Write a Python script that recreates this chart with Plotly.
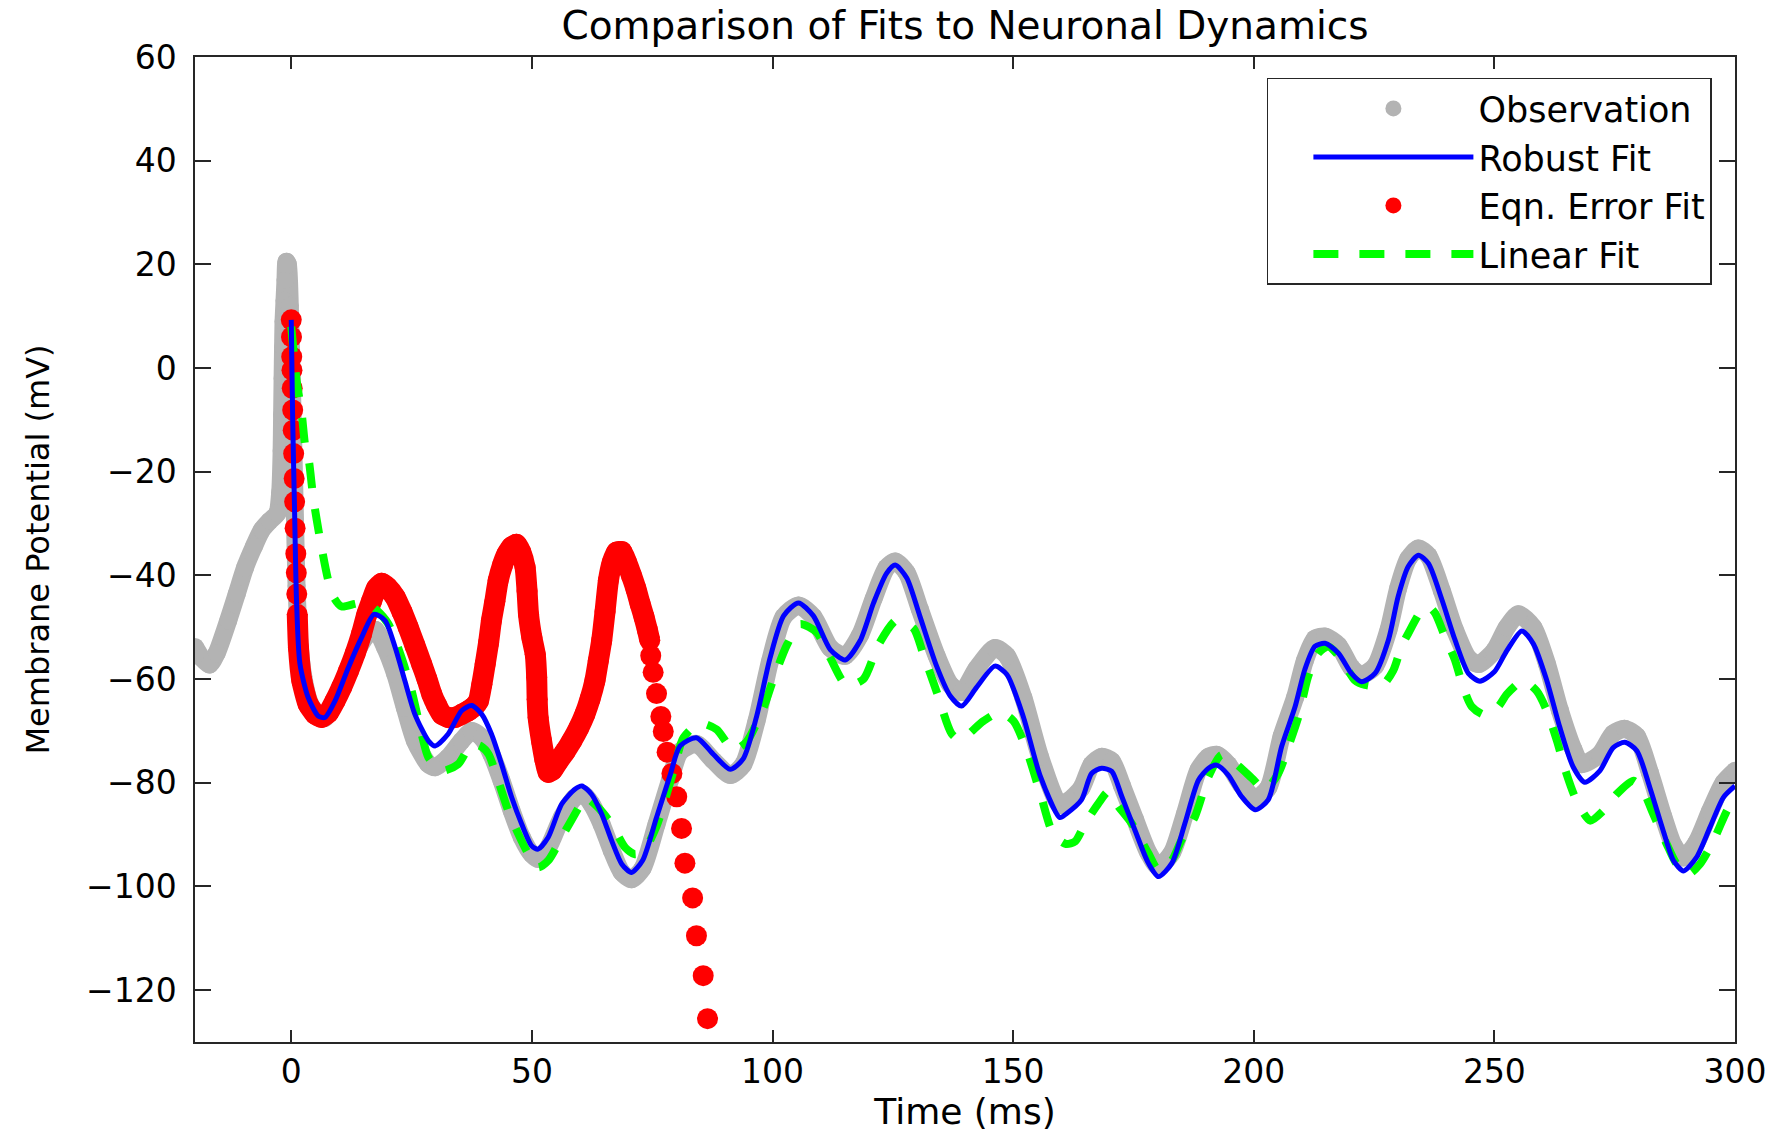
import plotly.graph_objects as go

# ---------------- data ----------------
obs_t = [-20, -18.5, -17, -15.5, -13.1, -11.3, -9.6, -7.8, -6.1, -4.5, -2.9, -2.3, -2.0, -1.9, -1.8,
         -1.7, -1.6, -1.4, -1.2, -1.0, -0.7, -0.3, 0.0, 0.3, 0.7, 1.1, 1.6, 2.5, 3.8, 5.5, 7.0, 9.0,
         11.5, 14.0, 16.0, 17.5, 19.5, 21.6, 23.6, 25.7, 28.5, 29.9, 32.6, 35.4, 37.5, 39.6, 41.6,
         43.7, 45.8, 47.9, 50.0, 51.3, 53.4, 56.2, 59.0, 60.7, 62.4, 64.5, 66.6, 68.7, 70.7, 73.0,
         75.9, 78.7, 80.8, 84.2, 87.7, 91.2, 93.9, 96.7, 99.5, 102.3, 105.4, 108.5, 112.0, 115.1,
         118.2, 121.0, 123.7, 125.5, 127.9, 130.6, 134.1, 136.9, 139.3, 142.4, 146.2, 148.7, 152.1,
         155.6, 159.7, 161.5, 164.2, 166.3, 168.4, 170.5, 172.6, 175.3, 178.1, 180.2, 183.0, 185.7,
         188.5, 190.6, 192.3, 194.7, 197.5, 200.3, 203.0, 205.8, 208.6, 210.6, 212.7, 214.8, 217.6,
         220.3, 222.4, 225.2, 228.0, 230.0, 232.1, 234.2, 236.3, 239.1, 241.8, 244.6, 246.7, 250.0,
         252.6, 255.0, 258.1, 260.9, 263.6, 266.4, 268.1, 271.9, 274.7, 277.1, 279.6, 282.3, 285.1,
         287.2, 289.3, 292.0, 294.8, 297.6, 300.0]
obs_v = [-53.8, -56, -57.2, -55, -48.7, -43.5, -38.5, -34.5, -31.2, -29.5, -28.0, -24, -16, -9, -2,
         4, 9, 13, 17, 20.5, 20, 12, 2, -10, -26, -42, -52, -59.5, -64.5, -67, -67.5, -64.5,
         -59, -54, -51.3, -50.5, -53.9, -59.0, -65.5, -71.9, -76.4, -77.0, -75.1, -71.9, -70.0, -71.3, -74.5,
         -79.6, -85.4, -90.5, -93.8, -94.7, -92.5, -86.7, -82.8, -82.2, -84.1, -88.0, -93.1, -97.3, -98.6, -96.5,
         -88, -79.5, -74, -72.5, -75.7, -78.5, -76.5, -68, -56.5, -48, -45.8, -48, -54, -55.5,
         -51.5, -44.5, -38.5, -37.3, -39.5, -46.5, -55.5, -61, -62.5, -58, -54, -55.5, -63.5,
         -75, -84.3, -83.5, -81, -76.5, -75, -75.8, -80.5, -87, -93.5, -96.2, -93.5, -86,
         -77.5, -75, -74.6, -76.5, -80.5, -83, -81, -71, -63.5, -56.5, -52.2, -51.8, -53.5,
         -57.8, -59.2, -57.5, -50.5, -42.5, -36.8, -34.8, -36.2, -43, -50.5, -56, -57.1, -54.5,
         -50, -47.5, -50, -57, -66, -73.5, -76.4, -74.5, -70.5, -69.6, -71, -78, -86.5,
         -92, -94.4, -91.5, -85.5, -80, -77.7]

robust_t = [0, 0.3, 0.7, 1.1, 1.8, 3.5, 5.6, 7.0, 9.1, 11.9, 14.6, 17.2, 19.5, 21.6, 23.6, 25.7, 28.5,
            29.9, 32.6, 35.4, 37.5, 39.6, 41.6, 43.7, 45.8, 47.9, 50.0, 51.3, 53.4, 56.2, 59.0, 60.4,
            62.4, 64.5, 66.6, 68.7, 70.7, 73.0, 75.9, 78.7, 80.8, 84.2, 87.7, 91.2, 93.9, 96.7, 99.5,
            102.3, 105.4, 108.5, 112.0, 115.1, 118.2, 121.0, 123.7, 125.5, 127.9, 130.6, 134.1, 136.9,
            139.3, 142.4, 146.2, 148.7, 152.1, 155.6, 159.7, 161.0, 164.2, 166.3, 168.4, 170.5, 172.6,
            175.3, 178.1, 180.2, 183.0, 185.7, 188.5, 190.6, 192.3, 194.7, 197.5, 200.3, 203.0, 205.8,
            208.6, 210.6, 212.7, 214.8, 217.6, 220.3, 222.4, 225.2, 228.0, 230.0, 232.1, 234.2, 236.3,
            239.1, 241.8, 244.6, 247.0, 250.0, 252.6, 255.7, 258.1, 260.9, 263.6, 266.4, 268.8, 271.9,
            274.7, 277.1, 279.6, 282.3, 285.1, 287.2, 289.3, 292.0, 294.8, 297.6, 300.0]
robust_v = [9.3, -10, -28, -45, -57, -63.5, -67.1, -67.4, -64.2, -57.7, -52.0, -47.5, -48.7, -53.9, -60.3, -66.8, -71.9,
            -72.9, -70.6, -66.1, -65.1, -66.8, -70.6, -76.4, -82.8, -88.0, -92.2, -92.8, -90.5, -84.1, -81.2, -80.6,
            -82.2, -86.0, -91.2, -95.7, -97.3, -95.0, -86.7, -78.6, -72.9, -71.3, -74.5, -77.4, -75.4, -67.2, -55.9,
            -47.8, -45.3, -47.8, -54.3, -56.3, -52.6, -45.3, -39.6, -38.0, -40.5, -47.8, -57.5, -63.2,
            -65.2, -61.6, -57.5, -59.1, -67.2, -78.6, -86.7, -86.0, -83.3, -78.2, -77.2, -77.8, -82.7,
            -89.1, -95.5, -98.1, -95.5, -87.8, -79.5, -77.2, -76.6, -78.5, -82.7, -85.2, -83.3, -73.0,
            -65.3, -58.2, -53.7, -53.1, -55.0, -58.9, -60.5, -58.9, -52.4, -44.1, -38.3, -36.1, -37.7,
            -44.7, -52.4, -58.9, -60.4, -58.6, -54.5, -50.7, -53.2, -60.3, -69.3, -77.0, -79.9, -77.7,
            -73.2, -72.2, -73.8, -80.9, -89.3, -95.0, -97.0, -94.4, -88.6, -82.8, -80.6]

eqn_spike_t = [0, 0.05, 0.1, 0.15, 0.2, 0.3, 0.4, 0.5, 0.6, 0.7, 0.8, 0.95, 1.05, 1.15]
eqn_spike_v = [9.3, 6.0, 2.2, -0.4, -3.9, -8.1, -12.0, -16.5, -21.3, -25.8, -30.9, -35.8, -39.5, -43.6]
eqn_band_t = [1.25, 1.5, 2.2, 3.5, 5.0, 6.3, 7.7, 9.1, 10.5, 11.9, 13.3, 14.6, 15.7, 16.7, 17.7, 18.8,
              20.0, 21.6, 23.0, 24.3, 25.7, 27.1, 28.2, 29.2, 30.2, 31.3, 32.6, 34.0, 35.4, 36.8, 38.0,
              38.9, 39.6, 40.3, 41.0, 41.6, 42.3, 43.0, 43.9, 44.8, 45.8, 46.8, 47.7, 48.6, 49.0, 49.3,
              50.0, 50.7, 51.0, 51.1, 51.3, 52.0, 52.7, 53.4, 54.3, 55.5, 56.9, 58.3, 59.7, 61.0, 62.1,
              63.1, 63.8, 64.5, 65.2, 65.9, 66.7, 67.6, 68.7, 69.7, 70.7, 71.6, 72.5, 73.3, 74.0, 74.5]
eqn_band_v = [-47.5, -53.9, -60.3, -64.8, -66.8, -67.4, -66.5, -64.2, -61.5, -58.4, -55.0, -51.3, -47.5, -44.9, -42.5, -41.5,
              -42.3, -44.2, -47.0, -50.0, -53.5, -57.1, -60.0, -62.9, -65.0, -66.8, -67.4, -67.4, -66.8, -66.1, -65.3,
              -64.2, -61.0, -57.1, -53.0, -48.7, -45.0, -41.0, -38.0, -35.9, -34.5, -34.0, -35.5, -38.5, -43.0, -47.5,
              -52.0, -55.2, -59.7, -63.9, -67.4, -71.9, -75.5, -78.0, -77.5, -75.8, -74.0, -71.9, -69.5, -66.8, -63.8,
              -60.3, -56.5, -52.6, -47.0, -41.0, -37.5, -35.5, -35.4, -37.5, -40.0, -42.5, -45.5, -48.0, -50.5, -52.5]
eqn_tail_t = [74.7, 75.2, 75.9, 76.8, 77.3, 78.1, 79.1, 80.1, 81.1, 81.8, 83.4, 84.2, 85.6, 86.5]
eqn_tail_v = [-55.5, -58.7, -62.8, -67.2, -70.1, -74.1, -78.2, -82.7, -88.8, -95.5, -102.2, -109.5, -117.2, -125.5]

linear_t = [0, 1.1, 2.2, 2.9, 3.6, 4.6, 6.0, 7.7, 9.0, 10.5, 13.2, 15.3, 17.5, 20.2, 22.9, 25.0, 27.1,
            28.5, 31.3, 34.7, 37.5, 39.5, 41.0, 43.0, 45.1, 47.2, 49.3, 51.3, 53.4, 56.2, 59.7, 61.0,
            63.8, 66.6, 69.4, 71.4, 73.2, 75.9, 79.4, 81.5, 84.9, 88.4, 91.9, 94.6, 98.1, 100.2, 103.0,
            105.7, 109.2, 112.0, 115.4, 118.9, 122.0, 125.8, 129.3, 131.3, 134.1, 137.2, 139.0, 143.8,
            147.3, 150.1, 152.8, 155.6, 158.4, 161.0, 162.9, 165.0, 167.7, 169.8, 171.9, 174.6, 178.1,
            180.2, 183.0, 185.0, 187.8, 190.6, 193.3, 196.1, 199.6, 202.3, 205.1, 207.2, 209.3, 211.3,
            213.4, 215.5, 218.3, 221.0, 223.1, 226.6, 229.0, 230.7, 232.1, 234.9, 236.3, 237.7, 239.7,
            241.8, 243.5, 245.3, 248.0, 250.8, 252.6, 256.0, 258.8, 260.9, 263.0, 265.0, 267.1, 269.9,
            272.6, 275.4, 278.9, 280.9, 283.0, 285.8, 287.9, 290.3, 292.7, 295.5, 298.3, 300.0]
linear_v = [8.0, -2.3, -9, -15, -17.5, -25.2, -33.1, -41.0, -44.5, -46.0, -45.5, -45.2, -46.5, -49.4, -55.8, -62.2, -70.6,
            -75.1, -77.7, -76.4, -72.5, -73.0, -74.5, -79.6, -85.4, -89.9, -93.8, -96.3, -95.0, -90.5, -84.8, -82.8,
            -84.8, -88.0, -92.5, -93.8, -93.2, -88.4, -77.8, -71.3, -68.5, -69.7, -73.7, -72.1, -65.6, -60.0, -53.4,
            -49.4, -51.0, -55.9, -61.2, -60.0, -53.4, -48.6, -50.2, -55.1, -62.4, -70.5, -71.7, -68.1,
            -66.4, -68.1, -73.7, -81.9, -90.0, -91.8, -91.3, -87.8, -84.0, -81.7, -84.6, -87.8, -93.6,
            -96.8, -94.9, -91.0, -86.5, -78.8, -74.6, -76.2, -79.1, -81.4, -78.2, -73.0, -67.2, -59.5,
            -55.0, -53.7, -56.3, -60.2, -61.1, -61.3, -58.3, -53.7, -51.2, -46.7, -46.0, -47.3, -51.8,
            -56.3, -61.5, -65.3, -66.9, -65.3, -62.9, -60.3, -62.3, -66.1, -71.9, -78.3, -83.5, -87.3,
            -85.4, -82.2, -79.6, -81.5, -86.0, -91.8, -95.7, -97.6, -95.7, -91.2, -85.4, -82.8]

x_ticks = [0, 50, 100, 150, 200, 250, 300]
y_ticks = [-120, -100, -80, -60, -40, -20, 0, 20, 40, 60]

# ---------------- figure ----------------
FONT = "DejaVu Sans"
AX = "#262626"
GRAY = "#b3b3b3"
SMOOTH = 0.7

fig = go.Figure()
fig.add_trace(go.Scatter(x=obs_t, y=obs_v, mode="lines",
                         line=dict(color=GRAY, width=18, shape="spline", smoothing=SMOOTH),
                         showlegend=False, hoverinfo="skip"))
fig.add_trace(go.Scatter(x=obs_t, y=obs_v, mode="markers", marker=dict(color=GRAY, size=18),
                         name="Observation", legendrank=1))
fig.add_trace(go.Scatter(x=eqn_band_t, y=eqn_band_v, mode="lines",
                         line=dict(color="#ff0000", width=21, shape="spline", smoothing=0.5),
                         showlegend=False, hoverinfo="skip"))
fig.add_trace(go.Scatter(x=eqn_spike_t + eqn_band_t + eqn_tail_t,
                         y=eqn_spike_v + eqn_band_v + eqn_tail_v,
                         mode="markers", marker=dict(color="#ff0000", size=21),
                         name="Eqn. Error Fit", legendrank=3))
fig.add_trace(go.Scatter(x=linear_t, y=linear_v, mode="lines",
                         line=dict(color="#00ff00", width=8, dash="25px,21px", shape="spline", smoothing=SMOOTH),
                         name="Linear Fit", legendrank=4))
fig.add_trace(go.Scatter(x=robust_t, y=robust_v, mode="lines",
                         line=dict(color="#0000ff", width=5, shape="spline", smoothing=SMOOTH),
                         name="Robust Fit", legendrank=2))

axis_common = dict(showline=True, linecolor=AX, linewidth=1.5, mirror="ticks", ticks="inside",
                   tickcolor=AX, tickwidth=1.5, showgrid=False, zeroline=False, automargin=False,
                   tickfont=dict(family=FONT, size=33, color="black"))

W, H = 1789, 1136
fig.update_layout(
    width=W, height=H,
    margin=dict(l=195, r=54, t=57, b=94),
    paper_bgcolor="white", plot_bgcolor="white",
    font=dict(family=FONT, color="black"),
    title=dict(text="Comparison of Fits to Neuronal Dynamics", x=0.5, xref="paper", xanchor="center",
               y=1 - 25 / H, yref="container", yanchor="middle",
               font=dict(family=FONT, size=39, color="black")),
    xaxis=dict(range=[-20, 300], tickvals=x_ticks, ticklen=12, ticklabelstandoff=0,
               title=dict(text="Time (ms)", font=dict(family=FONT, size=36, color="black"), standoff=6),
               **axis_common),
    yaxis=dict(range=[-130, 60], tickvals=y_ticks, ticklen=16, ticklabelstandoff=10,
               title=dict(text="Membrane Potential (mV)", font=dict(family=FONT, size=32, color="black"), standoff=27),
               **axis_common),
    legend=dict(x=0.985, y=0.979, xanchor="right", yanchor="top", bgcolor="white",
                bordercolor=AX, borderwidth=1.5, font=dict(family=FONT, size=35, color="black"),
                itemwidth=160, indentation=40, tracegroupgap=0),
    showlegend=True,
)

# remove the browser's default 8 px body margin so the figure fills the window exactly
fig.write_html("out.html", config={"displayModeBar": False},
               post_script="document.body.style.margin='0';")
